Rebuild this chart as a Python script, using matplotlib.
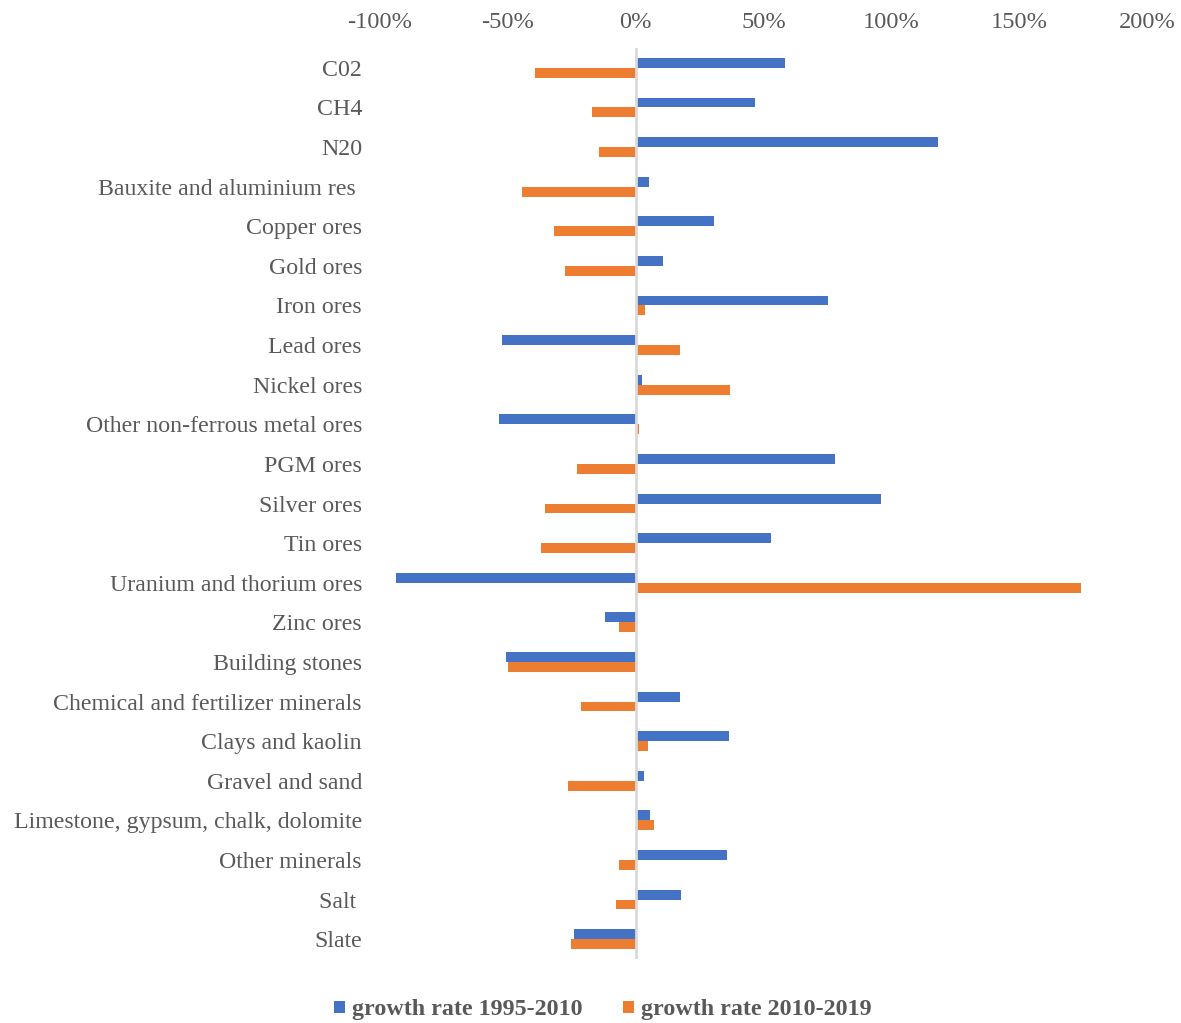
import matplotlib
matplotlib.use("Agg")
import matplotlib.pyplot as plt
import numpy as np
from matplotlib.ticker import FuncFormatter

categories = [
    "C02", "CH4", "N20", "Bauxite and aluminium res ", "Copper ores", "Gold ores",
    "Iron ores", "Lead ores", "Nickel ores", "Other non-ferrous metal ores",
    "PGM ores", "Silver ores", "Tin ores", "Uranium and thorium ores", "Zinc ores",
    "Building stones", "Chemical and fertilizer minerals", "Clays and kaolin",
    "Gravel and sand", "Limestone, gypsum, chalk, dolomite", "Other minerals",
    "Salt ", "Slate",
]
growth_1995_2010 = [
    58.4, 46.7, 118.2, 5.3, 30.6, 10.6,
    75.1, -52.3, 2.5, -53.6,
    78.1, 96.0, 52.8, -93.9, -12.0,
    -50.7, 17.2, 36.6,
    3.2, 5.6, 35.7,
    17.6, -24.0,
]
growth_2010_2019 = [
    -39.4, -17.1, -14.2, -44.6, -32.1, -27.8,
    3.8, 17.2, 36.9, 1.2,
    -23.0, -35.5, -37.0, 174.2, -6.5,
    -49.9, -21.3, 4.9,
    -26.6, 7.3, -6.5,
    -7.8, -25.3,
]
series_labels = ["growth rate 1995-2010", "growth rate 2010-2019"]
x_ticks = [-100, -50, 0, 50, 100, 150, 200]

BLUE = "#4472C4"
ORANGE = "#ED7D31"
TEXT = "#595959"
FONT = "Liberation Serif"

plt.rcParams["font.family"] = [FONT, "DejaVu Serif"]

fig = plt.figure(figsize=(11.81, 10.23), dpi=100)
W, H = 1181, 1023
ax = fig.add_axes([380 / W, 1 - 959 / H, (1147 - 380) / W, (959 - 48) / H])

y = np.arange(len(categories))
h = 0.25
ax.barh(y - h / 2, growth_1995_2010, height=h, color=BLUE, label=series_labels[0], zorder=2)
ax.barh(y + h / 2, growth_2010_2019, height=h, color=ORANGE, label=series_labels[1], zorder=2)

ax.axvline(0, color="#D9D9D9", lw=2, zorder=3)

ax.set_xlim(-100, 200)
ax.set_ylim(len(categories) - 0.5, -0.5)
ax.set_xticks(x_ticks)
ax.xaxis.set_major_formatter(FuncFormatter(lambda v, p: f"{v:.0f}%"))
ax.xaxis.tick_top()
ax.tick_params(axis="x", length=0, pad=11, labelsize=17.6, labelcolor=TEXT)
ax.set_yticks(y)
ax.set_yticklabels(categories)
ax.tick_params(axis="y", length=0, pad=13, labelsize=17.2, labelcolor=TEXT)
for s in ax.spines.values():
    s.set_visible(False)

leg = fig.legend(
    loc="center", bbox_to_anchor=(603 / W, 1 - 1010 / H), ncol=2, frameon=False,
    prop={"family": FONT, "weight": "bold", "size": 17.3},
    handlelength=0.44, handleheight=0.44, handletextpad=0.3, columnspacing=1.7,
)
for t in leg.get_texts():
    t.set_color(TEXT)

fig.savefig("out.png", dpi=100, facecolor="white")
